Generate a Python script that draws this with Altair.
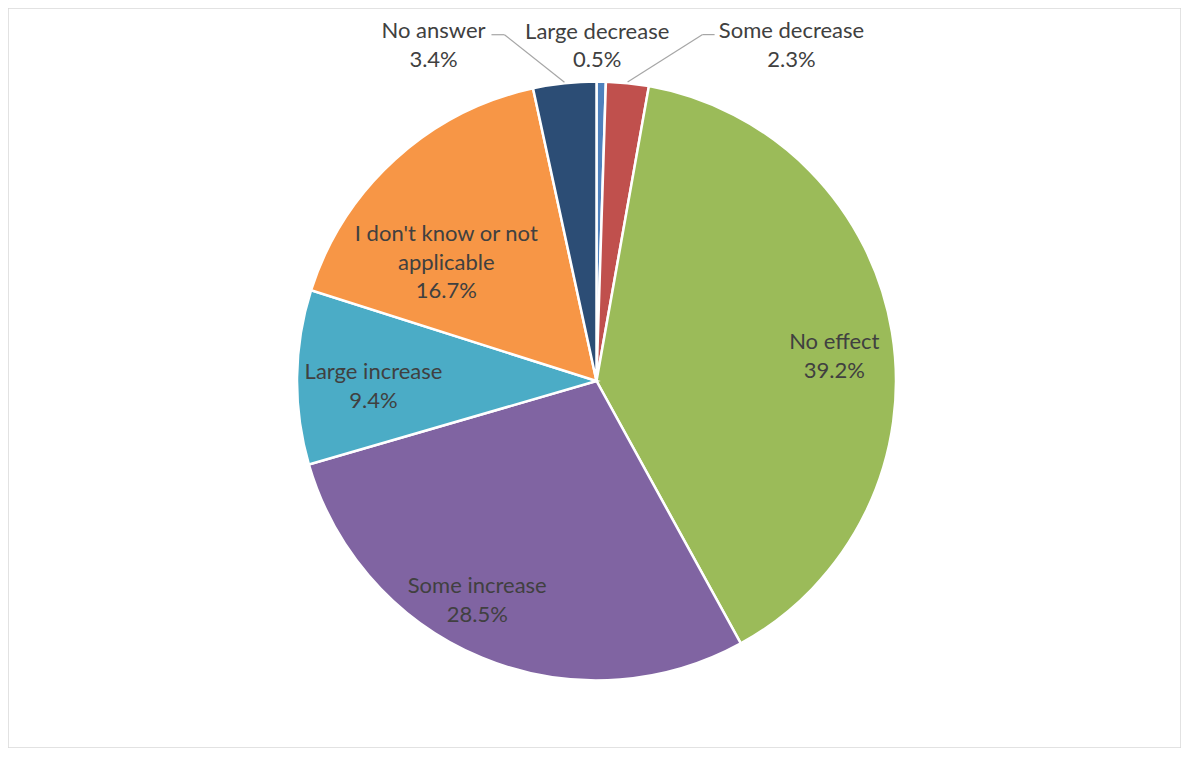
import altair as alt
import pandas as pd

# ---- data ----
CATEGORIES = ["Large decrease", "Some decrease", "No effect", "Some increase",
              "Large increase", "I don't know or not applicable", "No answer"]
VALUES = [0.5, 2.3, 39.2, 28.5, 9.4, 16.7, 3.4]
LABEL_LINES = ["Large decrease", "Some decrease", "No effect", "Some increase",
               "Large increase", "I don't know or not\napplicable", "No answer"]
COLORS = ["#4F81BD", "#C0504D", "#9BBB59", "#8064A2", "#4BACC6", "#F79646", "#2C4D75"]

# ---- layout / style ----
W, H = 1173, 740
CX, CY = 588.5, 373.0
R = 299.5
FONT = "Lato"
FONT_SIZE = 22
TEXT_COLOR = "#404040"
LEADER_COLOR = "#A6A6A6"

# per label: (radius, dx, dy)  -- dy positions the first line
LABEL_STYLE = {
    "Large decrease": (R, -4, -50),
    "Some decrease": (R, 164, -52),
    "No effect": (239, 2, 0),
    "Some increase": (249, -24, -25),
    "Large increase": (223, 0, -6),
    "I don't know or not applicable": (189, -23, -7),
    "No answer": (R, -131, -52),
}
# leaders: (elbow dx, elbow dy, horizontal tail)
LEADERS = {
    "No answer": (-60, -47.5, -13),
    "Some decrease": (75, -47.5, 12),
}

df = pd.DataFrame({
    "cat": CATEGORIES,
    "value": VALUES,
    "idx": list(range(len(CATEGORIES))),
    "txt": [f"{l}\n{v:.1f}%" for l, v in zip(LABEL_LINES, VALUES)],
})

arcs = alt.Chart(df).mark_arc(outerRadius=R, stroke="white", strokeWidth=2.5).encode(
    theta=alt.Theta("value:Q", stack=True),
    color=alt.Color("cat:N", scale=alt.Scale(domain=CATEGORIES, range=COLORS), legend=None),
    order=alt.Order("idx:Q"),
    x=alt.value(CX),
    y=alt.value(CY),
)

base = (
    alt.Chart(df)
    .transform_joinaggregate(total="sum(value)")
    .transform_window(cum="sum(value)", sort=[alt.SortField("idx", order="ascending")], frame=[None, 0])
    .transform_calculate(mid="2*PI*(datum.cum - datum.value/2)/datum.total")
)

layers = [arcs]

for cat, (elx, ely, tail) in LEADERS.items():
    seg = base.transform_filter(alt.datum.cat == cat).transform_calculate(
        ex=f"{CX} + {R + 1}*sin(datum.mid)",
        ey=f"{CY} - {R + 1}*cos(datum.mid)",
    ).transform_calculate(
        kx=f"datum.ex + ({elx})",
        ky=f"datum.ey + ({ely})",
    ).transform_calculate(
        tx=f"datum.kx + ({tail})",
    )
    layers.append(seg.mark_rule(color=LEADER_COLOR, strokeWidth=1.2).encode(
        x=alt.X("ex:Q", scale=None), y=alt.Y("ey:Q", scale=None),
        x2="kx:Q", y2="ky:Q"))
    layers.append(seg.mark_rule(color=LEADER_COLOR, strokeWidth=1.2).encode(
        x=alt.X("kx:Q", scale=None), y=alt.Y("ky:Q", scale=None),
        x2="tx:Q", y2="ky:Q"))

for cat, (r, dx, dy) in LABEL_STYLE.items():
    t = base.transform_filter(alt.datum.cat == cat).transform_calculate(
        px=f"{CX} + {r}*sin(datum.mid)",
        py=f"{CY} - {r}*cos(datum.mid)",
    ).mark_text(
        dx=dx, dy=dy, font=FONT, fontSize=FONT_SIZE, color=TEXT_COLOR,
        align="center", baseline="middle", lineBreak="\n", lineHeight=28.5,
    ).encode(
        x=alt.X("px:Q", scale=None),
        y=alt.Y("py:Q", scale=None),
        text="txt:N",
    )
    layers.append(t)

chart = alt.layer(*layers).properties(
    width=W, height=H, padding=0, autosize="none", background="white"
).configure_view(stroke="#D9D9D9", strokeWidth=1.5)

chart.save("out.html", embed_options={"renderer": "svg", "actions": False})
